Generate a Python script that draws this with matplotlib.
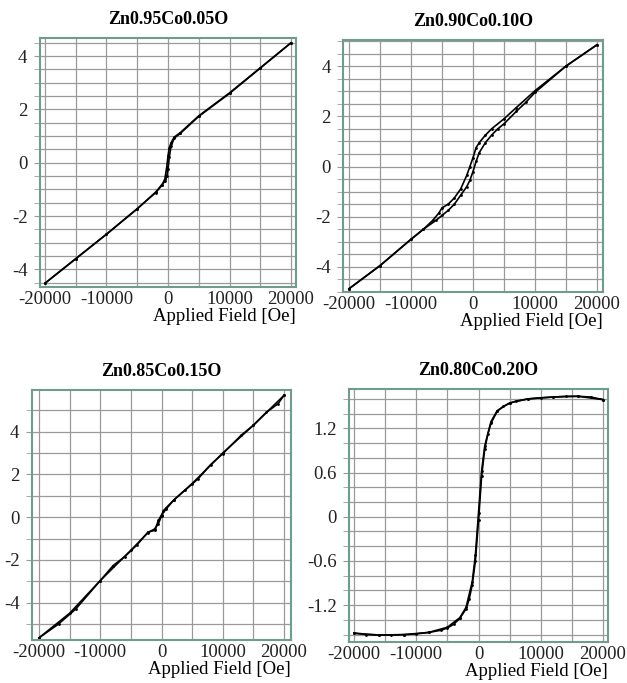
import numpy as np
import matplotlib.pyplot as plt
from matplotlib.ticker import MultipleLocator, FuncFormatter

plt.rcParams['font.family'] = ['Liberation Serif', 'DejaVu Serif']
plt.rcParams['axes.unicode_minus'] = False

# ---- data (field in Oe, magnetisation) ----
# Zn0.95Co0.05O
H1_up = [-20000, -15000, -10000, -5000, -2000, -1000, -500, -200, 0, 200, 500, 1000, 2000, 5000, 10000, 15000, 20000]
M1_up = [-4.52, -3.6, -2.68, -1.73, -1.1, -0.82, -0.7, -0.5, -0.25, 0.2, 0.62, 0.92, 1.1, 1.74, 2.6, 3.55, 4.5]
H1_dn = [20000, 15000, 10000, 5000, 2000, 1000, 500, 200, 0, -200, -500, -1000, -2000, -5000, -10000, -15000, -20000]
M1_dn = [4.5, 3.56, 2.62, 1.76, 1.13, 0.96, 0.75, 0.55, 0.25, -0.15, -0.6, -0.85, -1.12, -1.72, -2.68, -3.6, -4.52]

# Zn0.90Co0.10O
H2_dn = [20000, 15000, 10000, 7000, 5000, 3000, 2000, 1000, 500, 0, -500, -1000, -2000, -3000, -4000, -5000, -5500, -6500, -8000, -10000, -15000, -20000]
M2_dn = [4.85, 4.0, 3.02, 2.35, 1.9, 1.5, 1.25, 0.95, 0.75, 0.35, 0.0, -0.35, -0.9, -1.25, -1.5, -1.65, -1.85, -2.15, -2.5, -2.9, -3.95, -4.87]
H2_up = [-20000, -15000, -10000, -8000, -6000, -5000, -4000, -3000, -2000, -1000, -500, 0, 500, 1000, 2000, 3000, 4000, 5000, 7000, 8500, 10000, 15000, 20000]
M2_up = [-4.87, -3.95, -2.9, -2.5, -2.15, -1.95, -1.75, -1.5, -1.15, -0.8, -0.55, -0.2, 0.2, 0.55, 0.95, 1.25, 1.5, 1.7, 2.2, 2.55, 2.95, 4.0, 4.85]

# Zn0.85Co0.15O
H3_up = [-20000, -16800, -14000, -10000, -7900, -6000, -4000, -2200, -1100, -500, 0, 800, 2000, 3800, 6000, 8000, 10000, 13000, 15000, 17100, 19000, 20000]
M3_up = [-5.65, -5.0, -4.3, -2.97, -2.27, -1.85, -1.3, -0.7, -0.62, -0.15, 0.1, 0.39, 0.8, 1.25, 1.8, 2.45, 2.97, 3.83, 4.3, 4.9, 5.3, 5.7]
H3_dn = [20000, 15000, 10000, 5000, 2000, 800, 300, 0, -500, -1100, -2200, -5000, -10000, -15000, -20000]
M3_dn = [5.7, 4.3, 3.0, 1.57, 0.8, 0.45, 0.3, 0.05, -0.3, -0.55, -0.72, -1.55, -2.97, -4.5, -5.65]

# Zn0.80Co0.20O
H4_up = [-20000, -18000, -16000, -14000, -12000, -10000, -8000, -6000, -5000, -4000, -3000, -2000, -1500, -1000, -500, 0,
         500, 1000, 1500, 2000, 3000, 4000, 5000, 6000, 8000, 10000, 12000, 14000, 16000, 18000, 20000]
M4_up = [-1.58, -1.6, -1.605, -1.606, -1.6, -1.59, -1.57, -1.54, -1.51, -1.46, -1.38, -1.25, -1.12, -0.92, -0.6, -0.05,
         0.55, 0.92, 1.12, 1.27, 1.43, 1.5, 1.54, 1.57, 1.6, 1.615, 1.625, 1.635, 1.635, 1.625, 1.59]
H4_dn = [20000, 16000, 12000, 8000, 5000, 3000, 2000, 1000, 500, 0, -500, -1000, -2000, -3000, -5000, -8000, -12000, -16000, -20000]
M4_dn = [1.59, 1.635, 1.625, 1.6, 1.545, 1.44, 1.29, 0.96, 0.62, 0.05, -0.52, -0.88, -1.23, -1.37, -1.5, -1.57, -1.6, -1.605, -1.58]

titles = ['Zn0.95Co0.05O', 'Zn0.90Co0.10O', 'Zn0.85Co0.15O', 'Zn0.80Co0.20O']

frame_col = '#6f9c8c'
grid_col = '#9a9a9a'


def tick_fmt(v, pos):
    if abs(v) < 1e-9:
        return '0'
    return f'{v:g}'


def draw_panel(ax, title, branches, xlim, ylim, ymaj, ymin):
    for H, M in branches:
        ax.plot(H, M, color='black', lw=1.2, marker='.', ms=2)
    ax.set_xlim(-xlim, xlim)
    ax.set_ylim(*ylim)
    ax.xaxis.set_major_locator(MultipleLocator(10000))
    ax.xaxis.set_minor_locator(MultipleLocator(5000))
    ax.yaxis.set_major_locator(MultipleLocator(ymaj))
    ax.yaxis.set_minor_locator(MultipleLocator(ymin))
    ax.xaxis.set_major_formatter(FuncFormatter(tick_fmt))
    ax.yaxis.set_major_formatter(FuncFormatter(tick_fmt))
    ax.grid(True, which='both', color=grid_col, lw=0.9)
    ax.set_axisbelow(True)
    ax.tick_params(axis='x', which='both', length=0, pad=3, labelsize=13.5, labelcolor='#222222')
    ax.tick_params(axis='y', which='both', length=4, color=grid_col, pad=5, labelsize=13.5, labelcolor='#222222')
    for s in ax.spines.values():
        s.set_color(frame_col)
        s.set_linewidth(1.5)
    ax.set_title(title, fontweight='bold', fontsize=13, pad=10)
    ax.set_xlabel('Applied Field [Oe]', loc='right', fontsize=13.5, labelpad=0)


fig = plt.figure(figsize=(6.27, 6.83), dpi=100)
ax1 = fig.add_axes([40 / 627, 1 - 287 / 683, 256 / 627, 249 / 683])
ax2 = fig.add_axes([343 / 627, 1 - 292 / 683, 260 / 627, 252 / 683])
ax3 = fig.add_axes([32 / 627, 1 - 640 / 683, 259 / 627, 250 / 683])
ax4 = fig.add_axes([349 / 627, 1 - 642 / 683, 259 / 627, 253 / 683])

draw_panel(ax1, titles[0], [(H1_up, M1_up), (H1_dn, M1_dn)], 20810, (-4.66, 4.68), 2, 0.5)
draw_panel(ax2, titles[1], [(H2_up, M2_up), (H2_dn, M2_dn)], 20970, (-5.0, 5.04), 2, 0.5)
draw_panel(ax3, titles[2], [(H3_up, M3_up), (H3_dn, M3_dn)], 21140, (-5.75, 5.95), 2, 1)
draw_panel(ax4, titles[3], [(H4_up, M4_up), (H4_dn, M4_dn)], 20800, (-1.70, 1.734), 0.6, 0.2)

fig.savefig('out.png', dpi=100)
